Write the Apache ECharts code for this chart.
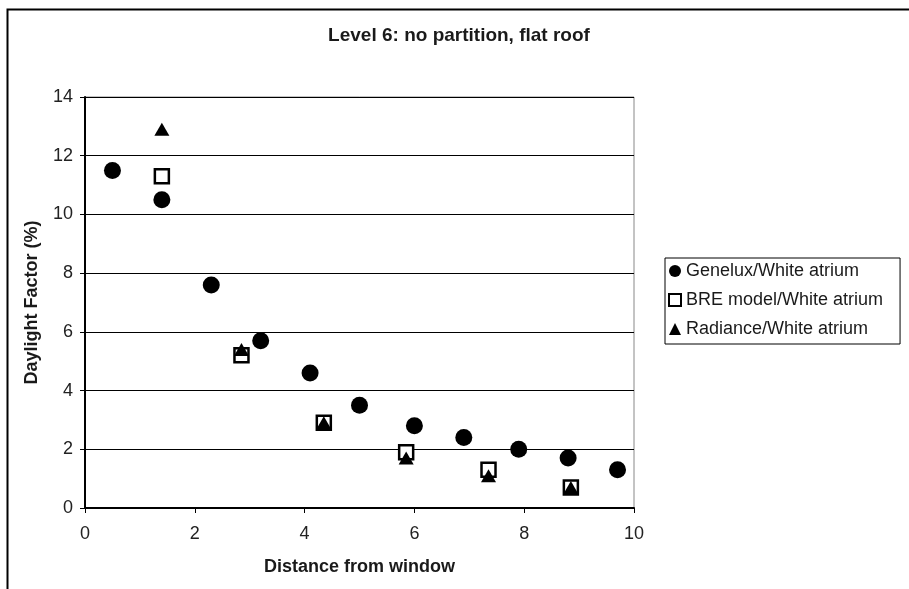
<!DOCTYPE html>
<html>
<head>
<meta charset="utf-8">
<script src="https://cdn.jsdelivr.net/npm/echarts@6/dist/echarts.min.js"></script>
<style>html,body{margin:0;padding:0;background:#fff;}#c{width:909px;height:589px;}</style>
</head>
<body>
<div id="c"></div>
<script>
const title = 'Level 6: no partition, flat roof';
const xName = 'Distance from window';
const yName = 'Daylight Factor (%)';
const seriesNames = ['Genelux/White atrium', 'BRE model/White atrium', 'Radiance/White atrium'];
const geneluxX = [0.5, 1.4, 2.3, 3.2, 4.1, 5.0, 6.0, 6.9, 7.9, 8.8, 9.7];
const geneluxY = [11.5, 10.5, 7.6, 5.7, 4.6, 3.5, 2.8, 2.4, 2.0, 1.7, 1.3];
const breX = [1.4, 2.85, 4.35, 5.85, 7.35, 8.85];
const breY = [11.3, 5.2, 2.9, 1.9, 1.3, 0.7];
const radX = [1.4, 2.85, 4.35, 5.85, 7.35, 8.85];
const radY = [12.9, 5.4, 2.9, 1.7, 1.1, 0.7];

const pairs = (xs, ys) => xs.map((x, i) => [x, ys[i]]);
const chart = echarts.init(document.getElementById('c'));
const font = 'Arial, "Liberation Sans", sans-serif';
chart.setOption({
  animation: false,
  backgroundColor: '#fff',
  textStyle: { fontFamily: font },
  graphic: [{
    type: 'rect', left: 5, top: 7, shape: { x: 0, y: 0, width: 1000, height: 1000 },
    style: { fill: 'none', stroke: '#000', lineWidth: 2 }, silent: true, z: -1
  }],
  title: {
    text: title, left: 454, top: 21, textAlign: 'center',
    textStyle: { fontSize: 19, fontWeight: 'bold', color: '#1a1a1a', fontFamily: font }
  },
  legend: {
    orient: 'vertical', left: 665, top: 258,
    padding: [4, 17, 6, 3], itemGap: 11,
    borderColor: '#000', borderWidth: 1,
    itemWidth: 12, itemHeight: 12,
    textStyle: { fontSize: 18, color: '#1a1a1a', fontFamily: font, padding: [0, 0, 0, 0] },
    data: [
      { name: seriesNames[0], icon: 'circle', itemStyle: { color: '#000' } },
      { name: seriesNames[1], icon: 'rect', itemStyle: { color: '#fff', borderColor: '#000', borderWidth: 2 } },
      { name: seriesNames[2], icon: 'triangle', itemStyle: { color: '#000' } }
    ]
  },
  grid: { left: 85, right: 275, top: 97, bottom: 81, show: true, borderColor: '#888', borderWidth: 1 },
  xAxis: {
    type: 'value', min: 0, max: 10, interval: 2,
    name: xName, nameLocation: 'middle', nameGap: 50,
    nameTextStyle: { fontSize: 18, fontWeight: 'bold', color: '#1a1a1a', fontFamily: font },
    axisLine: { show: true, lineStyle: { color: '#000', width: 2 } },
    axisTick: { show: true, length: 5, lineStyle: { color: '#000' } },
    axisLabel: { fontSize: 18, color: '#222', margin: 17 },
    splitLine: { show: false }
  },
  yAxis: {
    type: 'value', min: 0, max: 14, interval: 2,
    name: yName, nameLocation: 'middle', nameGap: 44, nameRotate: 90,
    nameTextStyle: { fontSize: 18, fontWeight: 'bold', color: '#1a1a1a', fontFamily: font },
    axisLine: { show: true, lineStyle: { color: '#000', width: 2 } },
    axisTick: { show: true, length: 5, lineStyle: { color: '#000' } },
    axisLabel: { fontSize: 18, color: '#222', margin: 12 },
    splitLine: { show: true, lineStyle: { color: '#000', width: 1.2 } }
  },
  series: [
    {
      name: seriesNames[0], type: 'scatter', symbol: 'circle', symbolSize: 17,
      itemStyle: { color: '#000', opacity: 1 }, data: pairs(geneluxX, geneluxY)
    },
    {
      name: seriesNames[1], type: 'scatter', symbol: 'rect', symbolSize: 14,
      itemStyle: { color: '#fff', borderColor: '#000', borderWidth: 2.5, opacity: 1 }, data: pairs(breX, breY)
    },
    {
      name: seriesNames[2], type: 'scatter', symbol: 'triangle', symbolSize: [15, 13],
      itemStyle: { color: '#000', opacity: 1 }, data: pairs(radX, radY)
    }
  ]
});
</script>
</body>
</html>
